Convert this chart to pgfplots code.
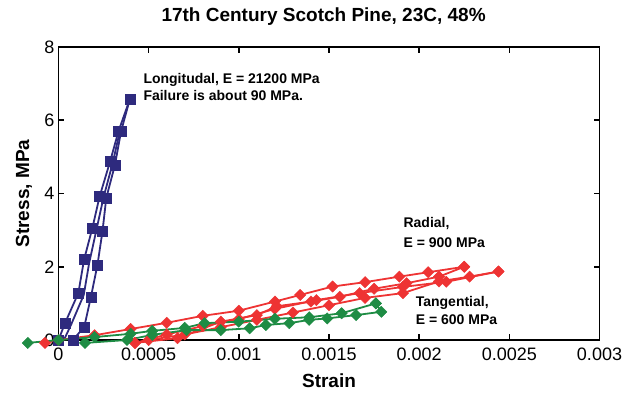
\documentclass[border=0pt]{standalone}
\usepackage{pgfplots}
\pgfplotsset{compat=1.18}
\usepackage{fontspec}
\setmainfont{Liberation Sans}
\definecolor{navy}{HTML}{2E2A7E}
\definecolor{rred}{HTML}{EE3333}
\definecolor{tgreen}{HTML}{1E8C44}
\begin{document}
\begin{tikzpicture}
\begin{axis}[
  scale only axis, width=541pt, height=293pt,
  xmin=0, xmax=0.003, ymin=0, ymax=8,
  clip=false,
  line width=1.6pt,
  tick style={line width=1.6pt, black},
  tick align=inside, major tick length=6pt,
  xtick={0,0.0005,0.001,0.0015,0.002,0.0025,0.003},
  xticklabels={0,0.0005,0.001,0.0015,0.002,0.0025,0.003},
  ytick={0,2,4,6,8},
  scaled x ticks=false,
  /pgf/number format/assume math mode=true,
  ticklabel style={font=\fontsize{18}{20}\selectfont},
  xticklabel style={yshift=-4pt},
  xlabel={\textbf{Strain}}, ylabel={\textbf{Stress, MPa}},
  xlabel style={font=\fontsize{19}{21}\selectfont, at={(axis description cs:0.5,-0.14)}, anchor=center},
  ylabel style={font=\fontsize{19}{21}\selectfont, at={(axis description cs:-0.0638,0.5)}, anchor=center, rotate=0},
  title={\textbf{17th Century Scotch Pine, 23C, 48\%}},
  title style={font=\fontsize{19}{21}\selectfont, at={(axis description cs:0.49,1.084)}, anchor=center},
  every axis plot/.append style={line width=1.8pt},
]
% Longitudinal
\addplot[navy, mark=square*, mark size=5pt, mark options={line width=0.4pt}] coordinates {
(0,0) (0.000036,0.46) (0.00011,1.28) (0.000142,2.2) (0.000188,3.06) (0.000228,3.92) (0.000286,4.87) (0.000332,5.69) (0.000396,6.58)};
\addplot[navy, mark=square*, mark size=5pt, mark options={line width=0.4pt}] coordinates {
(0.000396,6.58) (0.000347,5.70) (0.000313,4.78) (0.000265,3.88) (0.000244,2.97) (0.000216,2.05) (0.00018,1.18) (0.000143,0.36) (0.00008,0)};
\addplot[navy] coordinates {
(0.00003,0) (0.00007,0.42) (0.00014,1.23) (0.00017,2.1) (0.00021,3.0) (0.00025,3.9) (0.0003,4.82) (0.00034,5.7)};
% Radial
\addplot[rred, mark=square*, mark size=4pt, mark options={rotate=45, line width=0.4pt}] coordinates {
(-0.000075,-0.08) (0,0) (0.0002,0.13) (0.0004,0.30) (0.0006,0.47) (0.0008,0.66) (0.001,0.80) (0.0012,1.05) (0.00134,1.23) (0.00152,1.46) (0.0017,1.58) (0.00189,1.73) (0.00205,1.85) (0.00225,2.0)};
\addplot[rred, mark=square*, mark size=4pt, mark options={rotate=45, line width=0.4pt}] coordinates {
(0.00225,2.0) (0.00211,1.73) (0.00193,1.55) (0.00175,1.40) (0.00156,1.18) (0.0014,1.05) (0.00121,0.92) (0.0011,0.68) (0.0009,0.50) (0.00066,0.05) (0.000424,-0.08)};
\addplot[rred, mark=square*, mark size=4pt, mark options={rotate=45, line width=0.4pt}] coordinates {
(0.000424,-0.08) (0.0006,0.15) (0.0008,0.38) (0.001,0.57) (0.0012,0.85) (0.00143,1.09) (0.00167,1.28) (0.00191,1.45) (0.00215,1.59) (0.00244,1.87)};
\addplot[rred, mark=square*, mark size=4pt, mark options={rotate=45, line width=0.4pt}] coordinates {
(0.00244,1.87) (0.00228,1.73) (0.00211,1.60) (0.00191,1.28) (0.0017,1.15) (0.0015,0.95) (0.0013,0.75) (0.0011,0.55) (0.0009,0.35) (0.0007,0.15) (0.0005,0)};
% Tangential
\addplot[tgreen, mark=square*, mark size=4pt, mark options={rotate=45, line width=0.4pt}] coordinates {
(-0.00017,-0.08) (0,0) (0.0002,0.08) (0.0004,0.17) (0.00052,0.25) (0.0007,0.33) (0.00081,0.46) (0.001,0.50) (0.0012,0.58) (0.00139,0.62) (0.00157,0.73) (0.00176,1.0)};
\addplot[tgreen, mark=square*, mark size=4pt, mark options={rotate=45, line width=0.4pt}] coordinates {
(0.00176,1.0) (0.00179,0.77) (0.00165,0.68) (0.00149,0.59) (0.00139,0.55) (0.00128,0.46) (0.00115,0.41) (0.00106,0.32) (0.0009,0.27) (0.00071,0.27) (0.00052,0.14) (0.00038,0) (0.000147,-0.08)};
\begin{scope}[every node/.style={anchor=base west, inner sep=0pt, font=\bfseries\fontsize{14}{16}\selectfont}]
\node at (axis cs:0.000467,6.995) {Longitudal, E = 21200 MPa};
\node at (axis cs:0.000467,6.54) {Failure is about 90 MPa.};
\node at (axis cs:0.001909,3.06) {Radial,};
\node at (axis cs:0.001909,2.52) {E = 900 MPa};
\node at (axis cs:0.001977,0.91) {Tangential,};
\node at (axis cs:0.001977,0.41) {E = 600 MPa};
\end{scope}
\path (axis description cs:-0.10813,-0.17747) rectangle (axis description cs:1.06377,1.16041);
\end{axis}
\end{tikzpicture}
\end{document}
